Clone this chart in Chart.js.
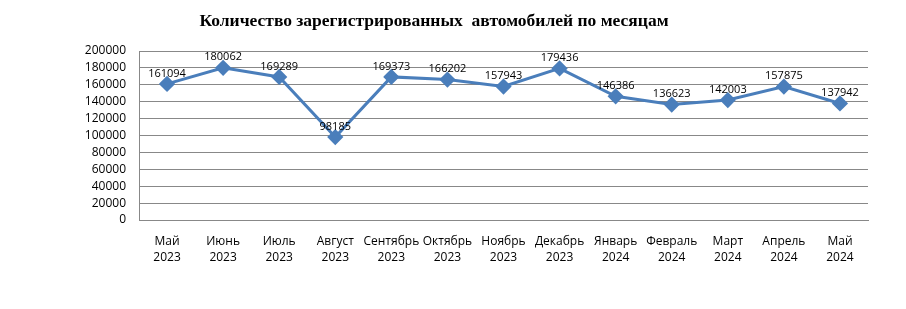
<!DOCTYPE html>
<html>
<head>
<meta charset="utf-8">
<script src="https://cdn.jsdelivr.net/npm/chart.js@4"></script>
<style>
  body { margin: 0; background: #fff; }
  #wrap { width: 906px; height: 309px; }
</style>
</head>
<body>
<div id="wrap"><canvas id="chart_canvas" width="906" height="309"></canvas></div>
<script>
var months = [
    ['Май', '2023'], ['Июнь', '2023'], ['Июль', '2023'], ['Август', '2023'],
    ['Сентябрь', '2023'], ['Октябрь', '2023'], ['Ноябрь', '2023'], ['Декабрь', '2023'],
    ['Январь', '2024'], ['Февраль', '2024'], ['Март', '2024'], ['Апрель', '2024'], ['Май', '2024']
];
var registered = [161094, 180062, 169289, 98185, 169373, 166202, 157943, 179436, 146386, 136623, 142003, 157875, 137942];
var yMax = 200000;
var yStep = 20000;

// value labels above each point
var pointLabels = {
    id: 'pointLabels',
    afterDatasetsDraw: function(chart) {
        var ctx = chart.ctx;
        var meta = chart.getDatasetMeta(0);
        ctx.save();
        ctx.font = '11px "Open Sans"';
        ctx.fillStyle = '#000';
        ctx.textAlign = 'center';
        ctx.textBaseline = 'bottom';
        meta.data.forEach(function(pt, i) {
            ctx.fillText(String(registered[i]), pt.x, pt.y - 5);
        });
        ctx.restore();
    }
};

var ctx = document.getElementById('chart_canvas').getContext('2d');
var myChart = new Chart(ctx, {
    type: 'line',
    data: {
        labels: months,
        datasets: [{
            data: registered,
            borderColor: '#4a7ebb',
            backgroundColor: '#4a7ebb',
            borderWidth: 3,
            pointStyle: 'rectRot',
            pointRadius: 6,
            pointHoverRadius: 6,
            tension: 0
        }]
    },
    options: {
        responsive: false,
        animation: false,
        layout: { padding: { left: 0, right: 38, top: 0, bottom: 0 } },
        plugins: {
            legend: { display: false },
            tooltip: { enabled: false },
            title: {
                display: true,
                text: 'Количество зарегистрированных  автомобилей по месяцам',
                color: '#000',
                font: { family: '"Liberation Serif"', size: 17.5, weight: 'bold', lineHeight: 1.2 },
                padding: { top: 11, bottom: 19 }
            }
        },
        scales: {
            x: {
                offset: true,
                grid: { display: false, drawTicks: false },
                border: { color: '#888', width: 1 },
                ticks: {
                    color: '#000',
                    font: { family: '"Open Sans"', size: 12, lineHeight: 1.35 },
                    padding: 13,
                    maxRotation: 0,
                    autoSkip: false
                },
                afterFit: function(scale) { scale.height = 89; }
            },
            y: {
                min: 0,
                max: yMax,
                grid: { color: '#888', drawTicks: false },
                border: { color: '#888', width: 1 },
                ticks: {
                    stepSize: yStep,
                    autoSkip: false,
                    color: '#000',
                    font: { family: '"Open Sans"', size: 12 },
                    padding: 13,
                    callback: function(v) { return String(v); }
                },
                afterFit: function(scale) { scale.width = 139; }
            }
        }
    },
    plugins: [pointLabels]
});
</script>
</body>
</html>
